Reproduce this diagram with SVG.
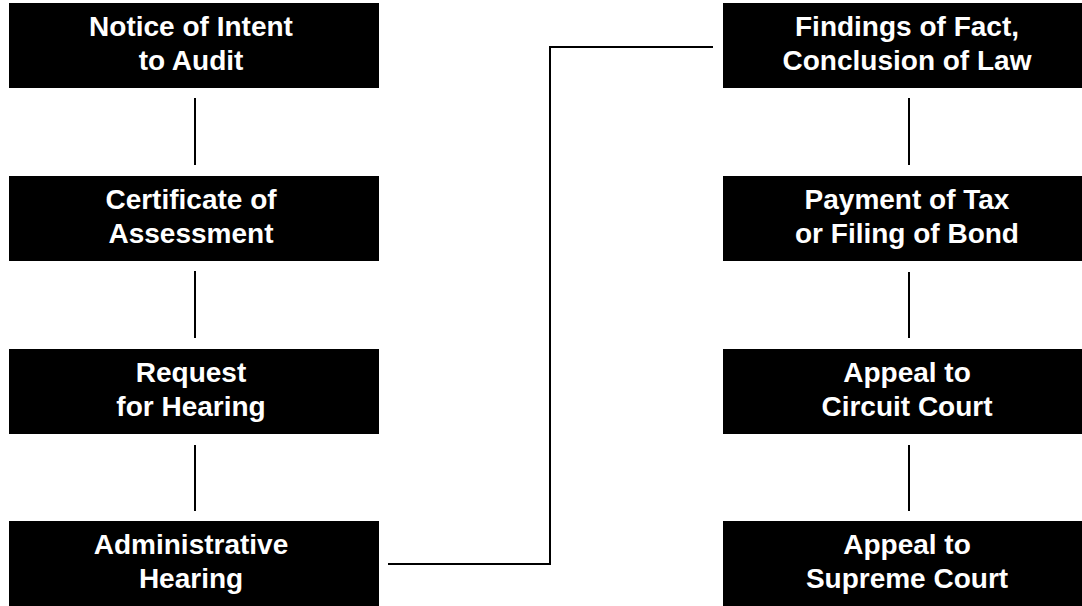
<svg xmlns="http://www.w3.org/2000/svg" width="1082" height="606" viewBox="0 0 1082 606">
<style>
.box{fill:#000}
.t{fill:#fff;font-family:"Liberation Sans",Arial,sans-serif;font-weight:bold;font-size:28px;text-anchor:middle}
.c{stroke:#000;stroke-width:2;fill:none}
</style>
<rect width="1082" height="606" fill="#fff"/>
<g id="connectors">
<line class="c" x1="195" y1="98" x2="195" y2="165"/>
<line class="c" x1="195" y1="271" x2="195" y2="338"/>
<line class="c" x1="195" y1="445" x2="195" y2="511"/>
<line class="c" x1="909" y1="98" x2="909" y2="165"/>
<line class="c" x1="909" y1="272" x2="909" y2="338"/>
<line class="c" x1="909" y1="445" x2="909" y2="511"/>
<polyline class="c" points="388,564 550,564 550,47 713,47"/>
</g>
<g id="n1"><rect class="box" x="9" y="3" width="370" height="85"/><text class="t" x="191" y="36">Notice of Intent</text><text class="t" x="191" y="70">to Audit</text></g>
<g id="n2"><rect class="box" x="9" y="176" width="370" height="85"/><text class="t" x="191" y="209">Certificate of</text><text class="t" x="191" y="243">Assessment</text></g>
<g id="n3"><rect class="box" x="9" y="349" width="370" height="85"/><text class="t" x="191" y="382">Request</text><text class="t" x="191" y="416">for Hearing</text></g>
<g id="n4"><rect class="box" x="9" y="521" width="370" height="85"/><text class="t" x="191" y="554">Administrative</text><text class="t" x="191" y="588">Hearing</text></g>
<g id="n5"><rect class="box" x="723" y="3" width="359" height="85"/><text class="t" x="907" y="36">Findings of Fact,</text><text class="t" x="907" y="70">Conclusion of Law</text></g>
<g id="n6"><rect class="box" x="723" y="176" width="359" height="85"/><text class="t" x="907" y="209">Payment of Tax</text><text class="t" x="907" y="243">or Filing of Bond</text></g>
<g id="n7"><rect class="box" x="723" y="349" width="359" height="85"/><text class="t" x="907" y="382">Appeal to</text><text class="t" x="907" y="416">Circuit Court</text></g>
<g id="n8"><rect class="box" x="723" y="521" width="359" height="85"/><text class="t" x="907" y="554">Appeal to</text><text class="t" x="907" y="588">Supreme Court</text></g>
</svg>
